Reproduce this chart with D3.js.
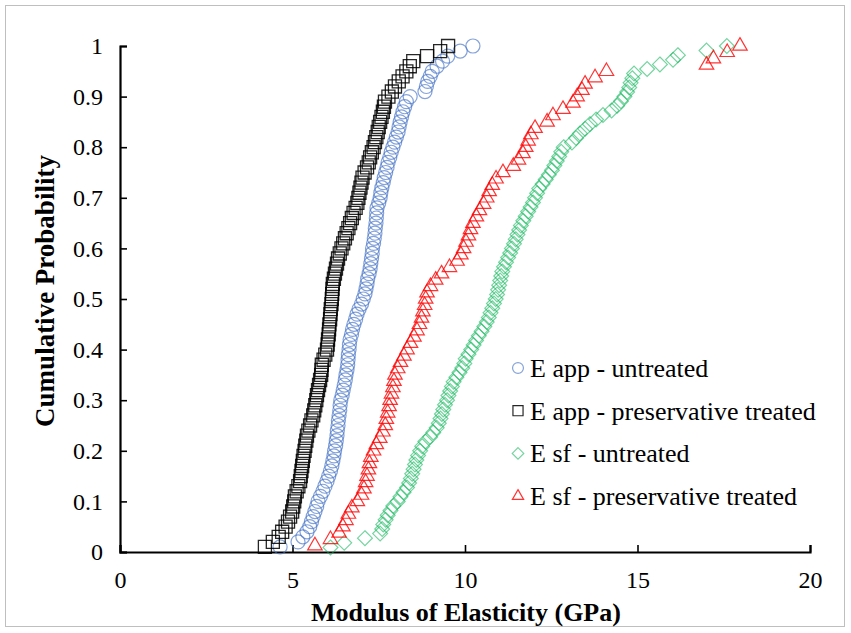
<!DOCTYPE html>
<html>
<head>
<meta charset="utf-8">
<script src="https://cdn.jsdelivr.net/npm/d3@7.9.0/dist/d3.min.js"></script>
</head>
<body style="margin:0">
<svg id="chart" width="851" height="633"></svg>
<script>
// MOE readings (GPa), sorted; cumulative probability is rank / n
const eAppUntreated = [4.64, 5.16, 5.30, 5.42, 5.50, 5.55, 5.60, 5.65, 5.70, 5.74,
  5.81, 5.88, 5.94, 6.00, 6.05, 6.10, 6.14, 6.17, 6.20, 6.22,
  6.25, 6.27, 6.29, 6.30, 6.32, 6.33, 6.35, 6.37, 6.38, 6.40,
  6.44, 6.47, 6.50, 6.53, 6.55, 6.58, 6.60, 6.61, 6.62, 6.64,
  6.65, 6.67, 6.71, 6.74, 6.78, 6.83, 6.87, 6.93, 7.00, 7.05,
  7.10, 7.13, 7.16, 7.18, 7.22, 7.25, 7.27, 7.29, 7.31, 7.32,
  7.35, 7.37, 7.39, 7.40, 7.42, 7.43, 7.44, 7.45, 7.50, 7.54,
  7.56, 7.59, 7.63, 7.66, 7.70, 7.74, 7.77, 7.82, 7.86, 7.91,
  7.96, 8.01, 8.06, 8.09, 8.12, 8.16, 8.20, 8.25, 8.30, 8.41,
  8.84, 8.88, 8.92, 8.99, 9.05, 9.19, 9.35, 9.50, 9.86, 10.23];

const eAppTreated = [4.20, 4.43, 4.60, 4.70, 4.80, 4.87, 4.93, 4.99, 5.02, 5.05,
  5.07, 5.12, 5.17, 5.22, 5.24, 5.26, 5.28, 5.30, 5.32, 5.35,
  5.37, 5.40, 5.42, 5.46, 5.51, 5.55, 5.60, 5.63, 5.66, 5.69,
  5.71, 5.74, 5.77, 5.80, 5.83, 5.84, 5.85, 5.90, 5.95, 6.00,
  6.02, 6.03, 6.05, 6.06, 6.07, 6.09, 6.10, 6.11, 6.13, 6.14,
  6.15, 6.16, 6.17, 6.20, 6.23, 6.26, 6.29, 6.32, 6.37, 6.42,
  6.47, 6.52, 6.57, 6.62, 6.67, 6.72, 6.77, 6.83, 6.88, 6.91,
  6.94, 6.97, 7.00, 7.03, 7.09, 7.16, 7.21, 7.25, 7.30, 7.35,
  7.39, 7.43, 7.47, 7.50, 7.54, 7.58, 7.62, 7.65, 7.68, 7.78,
  7.88, 7.97, 8.08, 8.19, 8.30, 8.40, 8.50, 8.90, 9.28, 9.51];

const eSfUntreated = [6.10, 6.50, 7.10, 7.54, 7.60, 7.63, 7.70, 7.76, 7.84, 7.92,
  8.05, 8.13, 8.22, 8.32, 8.38, 8.43, 8.47, 8.51, 8.55, 8.59,
  8.64, 8.70, 8.76, 8.85, 8.99, 9.08, 9.18, 9.24, 9.29, 9.33,
  9.37, 9.42, 9.48, 9.52, 9.57, 9.62, 9.67, 9.75, 9.84, 9.92,
  9.98, 10.02, 10.10, 10.18, 10.25, 10.32, 10.40, 10.48, 10.56, 10.63,
  10.69, 10.74, 10.79, 10.84, 10.89, 10.93, 10.96, 10.99, 11.02, 11.05,
  11.08, 11.13, 11.19, 11.25, 11.31, 11.36, 11.42, 11.47, 11.52, 11.57,
  11.62, 11.69, 11.76, 11.83, 11.90, 11.97, 12.03, 12.09, 12.15, 12.25,
  12.34, 12.43, 12.52, 12.59, 12.66, 12.73, 12.79, 12.86, 13.10, 13.22,
  13.33, 13.48, 13.62, 13.80, 14.00, 14.25, 14.41, 14.52, 14.62, 14.70,
  14.76, 14.80, 14.85, 14.90, 15.28, 15.65, 16.03, 16.17, 17.00, 17.59];

const eSfTreated = [5.65, 6.10, 6.35, 6.46, 6.55, 6.62, 6.72, 6.88, 7.00, 7.07,
  7.12, 7.16, 7.20, 7.23, 7.27, 7.35, 7.43, 7.53, 7.62, 7.69,
  7.72, 7.76, 7.80, 7.83, 7.87, 7.91, 7.94, 7.97, 8.05, 8.13,
  8.23, 8.32, 8.42, 8.52, 8.61, 8.68, 8.74, 8.78, 8.83, 8.86,
  8.90, 9.00, 9.15, 9.32, 9.55, 9.77, 9.88, 9.96, 10.03, 10.10,
  10.16, 10.23, 10.33, 10.42, 10.54, 10.63, 10.70, 10.79, 10.90, 11.10,
  11.40, 11.55, 11.68, 11.76, 11.83, 11.91, 12.03, 12.38, 12.55, 12.84,
  13.13, 13.25, 13.39, 13.48, 13.77, 14.10, 17.00, 17.20, 17.60, 17.97];

const seriesNames = ["E app - untreated", "E app - preservative treated",
  "E sf - untreated", "E sf - preservative treated"];
const xTicks = [0, 5, 10, 15, 20];
const yTicks = [0, 0.1, 0.2, 0.3, 0.4, 0.5, 0.6, 0.7, 0.8, 0.9, 1];

const fontName = "Liberation Serif";

const series = [
  { name: seriesNames[0], values: eAppUntreated, shape: d3.symbolCircle, color: "#4472c4", opacity: 0.65, size: 155, width: 1.2 },
  { name: seriesNames[1], values: eAppTreated, shape: d3.symbolSquare, color: "#000000", opacity: 0.85, size: 170, width: 1.3 },
  { name: seriesNames[2], values: eSfUntreated, shape: d3.symbolDiamond2, color: "#00b050", opacity: 0.55, size: 140, width: 1.2 },
  { name: seriesNames[3], values: eSfTreated, shape: d3.symbolTriangle2, color: "#ff0000", opacity: 0.8, size: 150, width: 1.2 }
];

const svg = d3.select("#chart").attr("font-family", fontName);

svg.append("rect")
  .attr("x", 5.5).attr("y", 5.5)
  .attr("width", 839).attr("height", 621)
  .attr("fill", "#fff")
  .attr("stroke", "#bfbfbf");

const x = d3.scaleLinear().domain([0, 20]).range([120, 810]);
const y = d3.scaleLinear().domain([0, 1]).range([552, 46]);

// axes, ticks pointing inwards like excel
const xAxis = svg.append("g")
  .attr("transform", `translate(0,${y(0)})`)
  .call(d3.axisBottom(x).tickValues(xTicks).tickSize(-7).tickPadding(19).tickFormat(d3.format("d")));
const yAxis = svg.append("g")
  .attr("transform", `translate(${x(0)},0)`)
  .call(d3.axisLeft(y).tickValues(yTicks).tickSize(-7).tickPadding(17).tickFormat(d => d === 0 || d === 1 ? d : d.toFixed(1)));

[xAxis, yAxis].forEach(g => {
  g.attr("font-family", null).attr("font-size", 24);
  g.select(".domain").attr("stroke", "#000").attr("stroke-width", 2.2);
  g.selectAll(".tick line").attr("stroke", "#000").attr("stroke-width", 1.6);
  g.selectAll("text").attr("fill", "#000");
});

svg.append("text")
  .attr("x", 466).attr("y", 621)
  .attr("text-anchor", "middle")
  .attr("font-size", 26).attr("font-weight", "bold")
  .text("Modulus of Elasticity (GPa)");

svg.append("text")
  .attr("transform", "translate(54,291) rotate(-90)")
  .attr("text-anchor", "middle")
  .attr("font-size", 27).attr("font-weight", "bold")
  .text("Cumulative Probability");

// points
series.forEach(s => {
  const n = s.values.length;
  svg.append("g")
    .selectAll("path")
    .data(s.values)
    .join("path")
    .attr("transform", (d, i) => `translate(${x(d)},${y((i + 1) / n)})`)
    .attr("d", d3.symbol().type(s.shape).size(s.size))
    .attr("fill", "none")
    .attr("stroke", s.color)
    .attr("stroke-opacity", s.opacity)
    .attr("stroke-width", s.width);
});

// legend
const legend = svg.append("g").attr("transform", "translate(518,368)");
series.forEach((s, i) => {
  const row = legend.append("g").attr("transform", `translate(0,${i * 42.7})`);
  row.append("path")
    .attr("d", d3.symbol().type(s.shape).size(s.size * 0.6))
    .attr("fill", "none")
    .attr("stroke", s.color)
    .attr("stroke-opacity", s.opacity)
    .attr("stroke-width", 1.2);
  row.append("text")
    .attr("x", 12).attr("y", 9)
    .attr("font-size", 26)
    .text(s.name);
});
</script>
</body>
</html>
